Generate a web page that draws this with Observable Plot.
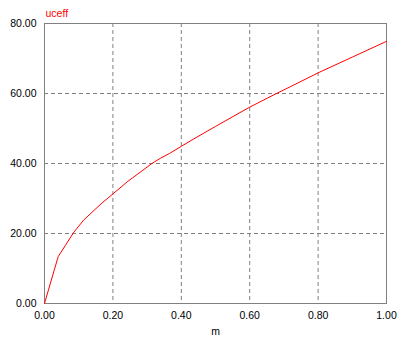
<!DOCTYPE html>
<html>
<head>
<meta charset="utf-8">
<script src="https://cdn.jsdelivr.net/npm/d3@7"></script>
<script src="https://cdn.jsdelivr.net/npm/@observablehq/plot@0.6"></script>
<style>
  html, body { margin: 0; padding: 0; background: #fff; }
  #chart svg { display: block; }
</style>
</head>
<body>
<div id="chart"></div>
<script>
const mValues = [0, 0.04, 0.061, 0.086, 0.115, 0.168, 0.2, 0.241, 0.314, 0.339, 0.366, 0.4, 0.436, 0.5, 0.6, 0.674, 0.718, 0.8, 0.9, 1.0];
const uceffValues = [0, 13.4, 16.6, 20.4, 23.9, 28.7, 31.3, 34.7, 40.0, 41.5, 42.9, 44.9, 47.0, 50.6, 56.1, 59.8, 61.9, 65.9, 70.4, 74.9];
const xTicks = [0, 0.2, 0.4, 0.6, 0.8, 1.0];
const yTicks = [0, 20, 40, 60, 80];
const seriesName = "uceff";
const xName = "m";

const data = mValues.map((m, i) => ({m, v: uceffValues[i]}));
const fmt = d3.format(".2f");

const chart = Plot.plot({
  width: 408,
  height: 341,
  marginLeft: 44,
  marginRight: 22,
  marginTop: 23,
  marginBottom: 38,
  style: {fontFamily: "'Liberation Sans', Arial, sans-serif", fontSize: "10.5px", background: "#fff", color: "#000"},
  x: {domain: [0, 1]},
  y: {domain: [0, 80]},
  marks: [
    Plot.gridX(xTicks, {stroke: "#808080", strokeOpacity: 1, strokeDasharray: "4,3"}),
    Plot.gridY(yTicks, {stroke: "#808080", strokeOpacity: 1, strokeDasharray: "4,3"}),
    Plot.frame({stroke: "#808080"}),
    Plot.axisX(xTicks, {tickSize: 0, tickPadding: 8, tickFormat: fmt, label: null, fill: "#000"}),
    Plot.axisY(yTicks, {tickSize: 0, tickPadding: 8, tickFormat: fmt, label: null, fill: "#000"}),
    Plot.line(data, {x: "m", y: "v", stroke: "red", strokeWidth: 1}),
    Plot.text([seriesName], {frameAnchor: "top-left", text: d => d, dx: 1, dy: -7, lineAnchor: "bottom", textAnchor: "start", fill: "red"}),
    Plot.text([xName], {frameAnchor: "bottom", text: d => d, dy: 31, lineAnchor: "bottom", fill: "#000"})
  ]
});
document.getElementById("chart").appendChild(chart);
</script>
</body>
</html>
